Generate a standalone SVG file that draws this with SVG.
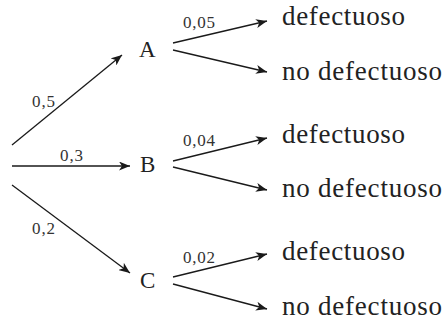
<svg xmlns="http://www.w3.org/2000/svg" width="446" height="322" viewBox="0 0 446 322">
<defs>
<marker id="ah" markerUnits="userSpaceOnUse" markerWidth="12" markerHeight="9" refX="11" refY="4.5" orient="auto" viewBox="0 0 12 9">
<path d="M0,0 L11,4.5 L0,9 L3,4.5 z" fill="#1a1a1a"/>
</marker>
<style>
.e{stroke:#1a1a1a;stroke-width:1.3;fill:none;marker-end:url(#ah)}
.n{font-size:23px;fill:#222}
.o{font-size:27px;fill:#222}
.p{font-size:17px;fill:#333}
</style>
</defs>
<rect width="446" height="322" fill="#fff"/>
<g id="connectors">
<line class="e" x1="12" y1="145" x2="122" y2="55"/>
<line class="e" x1="12" y1="166" x2="130" y2="166"/>
<line class="e" x1="12" y1="185" x2="130" y2="273"/>
<line class="e" x1="173" y1="43" x2="267" y2="21"/>
<line class="e" x1="173" y1="50" x2="267" y2="72"/>
<line class="e" x1="173" y1="161" x2="267" y2="138"/>
<line class="e" x1="173" y1="167" x2="267" y2="190"/>
<line class="e" x1="173" y1="277" x2="267" y2="254"/>
<line class="e" x1="173" y1="284" x2="267" y2="309"/>
</g>
<g font-family="'Liberation Serif', 'Times New Roman', serif">
<g id="labels">
<text class="p" x="32" y="107" textLength="23">0,5</text>
<text class="p" x="60" y="161" textLength="23">0,3</text>
<text class="p" x="32" y="234" textLength="23">0,2</text>
<text class="p" x="183" y="28" textLength="32">0,05</text>
<text class="p" x="183" y="146" textLength="32">0,04</text>
<text class="p" x="183" y="263" textLength="32">0,02</text>
</g>
<g id="A"><text class="n" x="139" y="57">A</text></g>
<g id="B"><text class="n" x="140" y="172">B</text></g>
<g id="C"><text class="n" x="140" y="288">C</text></g>
<g id="A-def"><text class="o" x="282" y="25" textLength="123">defectuoso</text></g>
<g id="A-nodef"><text class="o" x="282" y="80" textLength="160">no defectuoso</text></g>
<g id="B-def"><text class="o" x="282" y="143" textLength="123">defectuoso</text></g>
<g id="B-nodef"><text class="o" x="282" y="197" textLength="160">no defectuoso</text></g>
<g id="C-def"><text class="o" x="282" y="260" textLength="123">defectuoso</text></g>
<g id="C-nodef"><text class="o" x="282" y="315" textLength="160">no defectuoso</text></g>
</g>
</svg>
